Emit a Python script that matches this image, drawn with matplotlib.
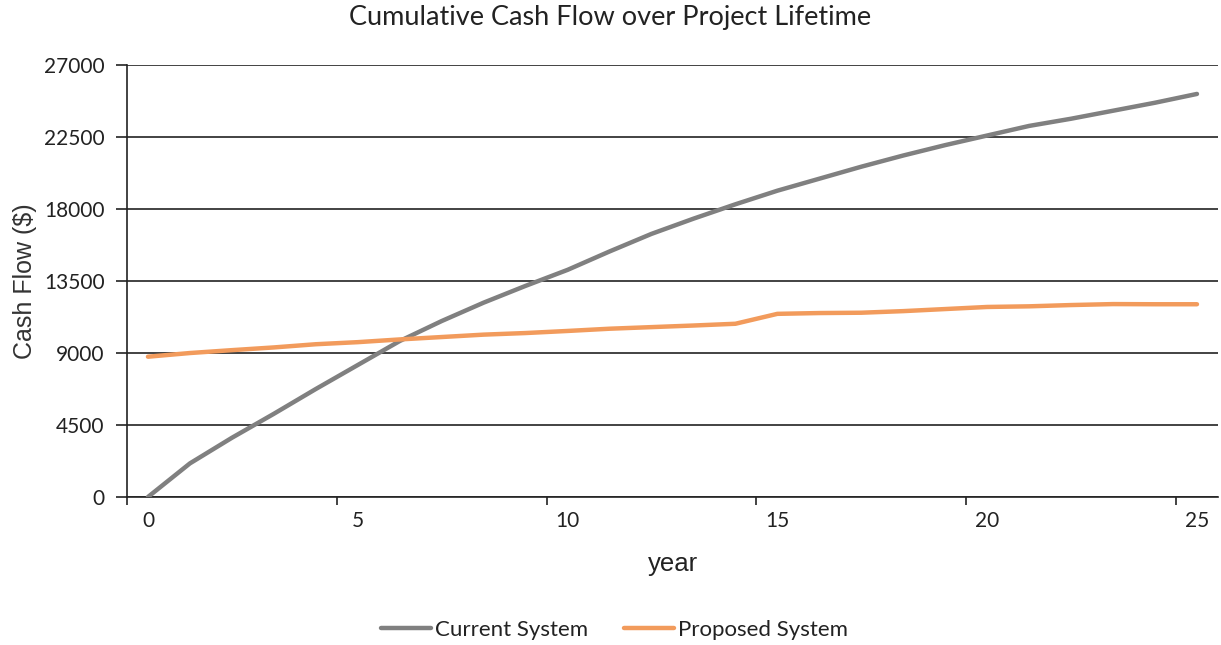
import matplotlib
matplotlib.use("Agg")
import matplotlib.pyplot as plt
import numpy as np

# data
years = list(range(0, 26))
current_system = [0, 2100, 3700, 5200, 6750, 8250, 9750, 11000, 12150, 13200,
                  14200, 15350, 16450, 17400, 18300, 19150, 19900, 20650, 21350, 22000,
                  22600, 23200, 23650, 24150, 24650, 25200]
proposed_system = [8770, 9000, 9180, 9350, 9550, 9680, 9850, 10000, 10150, 10250,
                   10380, 10520, 10620, 10720, 10830, 11450, 11500, 11520, 11620, 11750,
                   11880, 11920, 12000, 12060, 12050, 12050]
y_ticks = [0, 4500, 9000, 13500, 18000, 22500, 27000]
x_labels = [0, 5, 10, 15, 20, 25]

calibri_like = "Lato"
arial_like = "Liberation Sans"

fig = plt.figure(figsize=(12.21, 6.45), dpi=100)
ax = fig.add_axes([0.104, 0.2295, 0.8935, 0.6695])

ax.plot(years, current_system, color="#808080", lw=3.2, label="Current System",
        solid_capstyle="round", zorder=3)
ax.plot(years, proposed_system, color="#F29B5C", lw=3.2, label="Proposed System",
        solid_capstyle="round", zorder=3)

ax.set_xlim(-0.5, 25.5)
ax.set_ylim(0, 27000)

ax.set_yticks(y_ticks)
ax.set_yticklabels([str(v) for v in y_ticks], fontfamily=calibri_like, fontsize=15, color="#222222")
ax.yaxis.grid(True, color="#222222", lw=1.2)
ax.set_axisbelow(True)

# category style axis: labels on the years, tick marks between categories
ax.set_xticks(x_labels)
ax.set_xticklabels([str(v) for v in x_labels], fontfamily=calibri_like, fontsize=15, color="#222222")
ax.tick_params(axis="x", length=0, pad=10)
ax.set_xticks(np.arange(-0.5, 25, 5), minor=True)
ax.tick_params(axis="x", which="minor", length=6, width=1.2, color="#222222", direction="out")
ax.tick_params(axis="y", length=8, width=1.2, color="#222222", direction="out", pad=8)

for side in ["top", "right"]:
    ax.spines[side].set_visible(False)
for side in ["left", "bottom"]:
    ax.spines[side].set_color("#222222")
    ax.spines[side].set_linewidth(1.2)

ax.set_ylabel("Cash Flow ($)", fontfamily=arial_like, fontsize=18, color="#333333")
ax.yaxis.set_label_coords(-0.0825, 0.5)
ax.set_xlabel("year", fontfamily=arial_like, fontsize=18.5, color="#222222", va="center")
ax.xaxis.set_label_coords(0.5005, -0.155)

fig.text(0.5, 1 - 18 / 645, "Cumulative Cash Flow over Project Lifetime", fontfamily=calibri_like,
         fontsize=19.5, color="#222222", ha="center", va="center")

leg = fig.legend(loc="center", bbox_to_anchor=(0.503, 0.023), ncol=2, frameon=False,
                 prop={"family": calibri_like, "size": 16}, handlelength=2.25,
                 handletextpad=0.18, columnspacing=1.6)
for text in leg.get_texts():
    text.set_color("#222222")

fig.savefig("out.png", dpi=100)
